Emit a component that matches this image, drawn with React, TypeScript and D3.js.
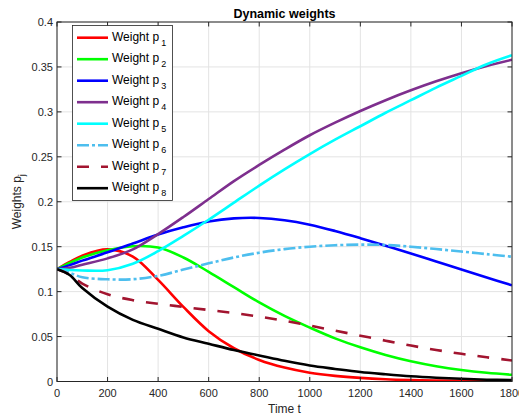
import React from "react";
import * as d3 from "d3";

const times = [0, 50, 100, 200, 300, 400, 500, 600, 700, 800, 900, 1000, 1100, 1200, 1300, 1400, 1500, 1600, 1700, 1800];
const p1 = [0.125, 0.133, 0.140, 0.147, 0.139, 0.113, 0.083, 0.056, 0.037, 0.024, 0.0155, 0.0098, 0.0063, 0.004, 0.0025, 0.0016, 0.001, 0.0007, 0.0005, 0.0003];
const p2 = [0.125, 0.132, 0.138, 0.146, 0.1505, 0.149, 0.138, 0.122, 0.105, 0.088, 0.073, 0.060, 0.048, 0.038, 0.0295, 0.0225, 0.017, 0.0128, 0.0097, 0.0075];
const p3 = [0.125, 0.1295, 0.1345, 0.1437, 0.1535, 0.1635, 0.1715, 0.178, 0.1815, 0.182, 0.1795, 0.1745, 0.1675, 0.1595, 0.151, 0.1425, 0.1335, 0.1245, 0.1157, 0.107];
const p4 = [0.125, 0.1265, 0.130, 0.137, 0.147, 0.164, 0.183, 0.203, 0.223, 0.241, 0.258, 0.274, 0.288, 0.301, 0.313, 0.324, 0.334, 0.343, 0.351, 0.358];
const p5 = [0.125, 0.124, 0.1235, 0.1238, 0.131, 0.145, 0.162, 0.180, 0.199, 0.218, 0.236, 0.253, 0.269, 0.284, 0.299, 0.313, 0.327, 0.340, 0.353, 0.363];
const p6 = [0.125, 0.121, 0.116, 0.1137, 0.1138, 0.1175, 0.1245, 0.1315, 0.138, 0.1433, 0.1473, 0.150, 0.1516, 0.1523, 0.1519, 0.150, 0.1474, 0.1446, 0.1417, 0.1388];
const p7 = [0.125, 0.119, 0.109, 0.097, 0.0905, 0.0865, 0.083, 0.0795, 0.0762, 0.0722, 0.0675, 0.0622, 0.0566, 0.051, 0.0454, 0.040, 0.0351, 0.0308, 0.0269, 0.0234];
const p8 = [0.125, 0.1185, 0.104, 0.0833, 0.0686, 0.0586, 0.049, 0.042, 0.035, 0.029, 0.023, 0.0178, 0.014, 0.0105, 0.008, 0.0058, 0.0042, 0.003, 0.002, 0.0015];

const seriesValues = [p1, p2, p3, p4, p5, p6, p7, p8];
const seriesIndex = ["1", "2", "3", "4", "5", "6", "7", "8"];
const seriesColors = ["#ff0000", "#00ff00", "#0000ff", "#7e2f8e", "#00ffff", "#4dbeee", "#a2142f", "#000000"];
const seriesDash = ["", "", "", "", "", "12,3,3,3", "12,12", ""];

const xTicks = [0, 200, 400, 600, 800, 1000, 1200, 1400, 1600, 1800];
const yTicks = [0, 0.05, 0.1, 0.15, 0.2, 0.25, 0.3, 0.35, 0.4];
const yTickLabels = ["0", "0.05", "0.1", "0.15", "0.2", "0.25", "0.3", "0.35", "0.4"];

const W = 519, H = 417;
const L = 57, R = 512, T = 22, B = 381.5;
const FONT = "'Liberation Sans', Arial, Helvetica, sans-serif";
const AX = "#262626";

export default function App() {
  const x = d3.scaleLinear().domain([0, 1800]).range([L, R]);
  const y = d3.scaleLinear().domain([0, 0.4]).range([B, T]);
  const line = d3
    .line<number>()
    .x((_, i) => x(times[i]))
    .y((d) => y(d))
    .curve(d3.curveCatmullRom.alpha(0.5));

  const legX = 72.5, legY = 25.5, legW = 100, legH = 175;
  const rowY0 = 37.7, rowStep = 21.5;

  return (
    <svg width={W} height={H} style={{ position: "absolute", left: 0, top: 0, fontFamily: FONT }}>
      <defs>
        <clipPath id="plotclip">
          <rect x={L} y={T} width={R - L} height={B - T} />
        </clipPath>
      </defs>
      <rect x={0} y={0} width={W} height={H} fill="#fff" />
      {xTicks.map((t) => (
        <line key={"gx" + t} x1={x(t)} x2={x(t)} y1={T} y2={B} stroke="#e3e3e3" strokeWidth={1} />
      ))}
      {yTicks.map((t) => (
        <line key={"gy" + t} x1={L} x2={R} y1={y(t)} y2={y(t)} stroke="#e3e3e3" strokeWidth={1} />
      ))}
      <g clipPath="url(#plotclip)">
        {seriesValues.map((vals, i) => (
          <path
            key={"s" + i}
            d={line(vals) || ""}
            fill="none"
            stroke={seriesColors[i]}
            strokeWidth={2.6}
            strokeDasharray={seriesDash[i] || undefined}
            strokeLinejoin="round"
          />
        ))}
      </g>
      <rect x={L} y={T} width={R - L} height={B - T} fill="none" stroke={AX} strokeWidth={1} />
      {xTicks.map((t) => (
        <g key={"tx" + t}>
          <line x1={x(t)} x2={x(t)} y1={B} y2={B - 4.5} stroke={AX} />
          <line x1={x(t)} x2={x(t)} y1={T} y2={T + 4.5} stroke={AX} />
          <text x={x(t)} y={397} fontSize={11} fill={AX} textAnchor="middle">
            {String(t)}
          </text>
        </g>
      ))}
      {yTicks.map((t, i) => (
        <g key={"ty" + t}>
          <line x1={L} x2={L + 4.5} y1={y(t)} y2={y(t)} stroke={AX} />
          <line x1={R} x2={R - 4.5} y1={y(t)} y2={y(t)} stroke={AX} />
          <text x={L - 4} y={y(t) + 4} fontSize={11} fill={AX} textAnchor="end">
            {yTickLabels[i]}
          </text>
        </g>
      ))}
      <text x={(L + R) / 2} y={18} fontSize={12.5} fontWeight="bold" textAnchor="middle" fill="#000">
        Dynamic weights
      </text>
      <text x={(L + R) / 2} y={413} fontSize={12} textAnchor="middle" fill={AX}>
        Time t
      </text>
      <text transform={`translate(21,${(T + B) / 2}) rotate(-90)`} fontSize={12} textAnchor="middle" fill={AX}>
        Weights p<tspan fontSize={9} dy={4}>j</tspan>
      </text>
      <rect x={legX} y={legY} width={legW} height={legH} fill="#fff" stroke={AX} strokeWidth={0.8} />
      {seriesValues.map((_, i) => {
        const ry = rowY0 + i * rowStep;
        return (
          <g key={"lg" + i}>
            <line
              x1={77}
              x2={108}
              y1={ry}
              y2={ry}
              stroke={seriesColors[i]}
              strokeWidth={2.6}
              strokeDasharray={seriesDash[i] || undefined}
            />
            <text x={112} y={ry + 3} fontSize={12} fill="#000">
              Weight p<tspan fontSize={9} dx={2} dy={5}>{seriesIndex[i]}</tspan>
            </text>
          </g>
        );
      })}
    </svg>
  );
}
